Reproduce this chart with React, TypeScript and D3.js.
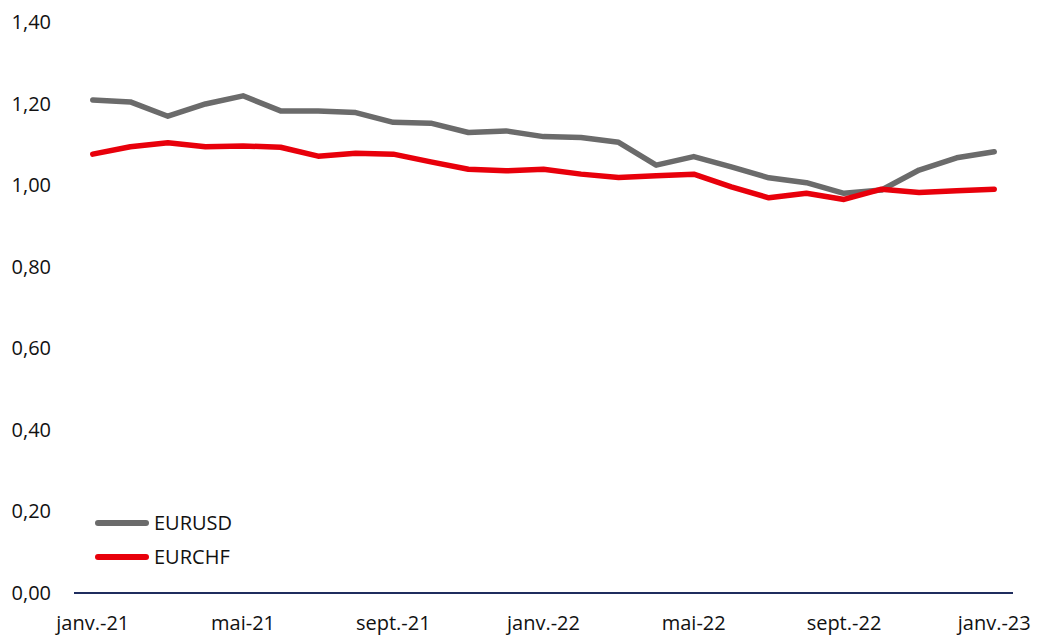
import React from "react";
import * as d3 from "d3";

const months = [
  "janv.-21","févr.-21","mars-21","avr.-21","mai-21","juin-21","juil.-21","août-21","sept.-21","oct.-21","nov.-21","déc.-21",
  "janv.-22","févr.-22","mars-22","avr.-22","mai-22","juin-22","juil.-22","août-22","sept.-22","oct.-22","nov.-22","déc.-22",
  "janv.-23",
];
const eurusd = [1.209,1.204,1.169,1.199,1.219,1.182,1.182,1.178,1.154,1.152,1.129,1.133,1.119,1.117,1.105,1.049,1.070,1.045,1.018,1.006,0.980,0.988,1.037,1.067,1.082];
const eurchf = [1.076,1.094,1.104,1.094,1.096,1.093,1.071,1.078,1.076,1.057,1.039,1.035,1.039,1.027,1.019,1.023,1.027,0.996,0.969,0.980,0.965,0.990,0.982,0.986,0.990];
const yTicks = [0,0.2,0.4,0.6,0.8,1.0,1.2,1.4];
const xTickLabels = ["janv.-21","mai-21","sept.-21","janv.-22","mai-22","sept.-22","janv.-23"];
const seriesNames = ["EURUSD","EURCHF"];
const colors = ["#6b6b6b","#e8000b"];

export default function App() {
  const W = 1038, H = 636;
  const x = d3.scaleBand<string>().domain(months).range([74, 1013]);
  const y = d3.scaleLinear().domain([0, 1.4]).range([593, 22]);
  const cx = (m: string) => (x(m) as number) + x.bandwidth() / 2;
  const line = d3.line<number>().x((_, i) => cx(months[i])).y((v) => y(v));
  const font = "'Open Sans', sans-serif";
  const fmt = (v: number) => v.toFixed(2).replace(".", ",");
  const data = [eurusd, eurchf];
  return (
    <svg width={W} height={H} style={{ position: "absolute", left: 0, top: 0, display: "block" }} fontFamily={font}>
      <rect width={W} height={H} fill="#fff" />
      {yTicks.map((t) => (
        <text key={t} x={51} y={y(t)} dy="0.35em" textAnchor="end" fontSize={20} fill="#111">{fmt(t)}</text>
      ))}
      <line x1={74} x2={1013} y1={y(0)} y2={y(0)} stroke="#1f2d5e" strokeWidth={2} />
      {xTickLabels.map((m) => (
        <text key={m} x={cx(m)} y={630} textAnchor="middle" fontSize={20} fill="#111">{m}</text>
      ))}
      {data.map((d, i) => (
        <path key={i} d={line(d) || ""} fill="none" stroke={colors[i]} strokeWidth={5.5} strokeLinejoin="round" strokeLinecap="round" />
      ))}
      {seriesNames.map((n, i) => (
        <g key={n} transform={`translate(0, ${523 + i * 34})`}>
          <line x1={98} x2={146} y1={0} y2={0} stroke={colors[i]} strokeWidth={6} strokeLinecap="round" />
          <text x={154} y={0} dy="0.35em" fontSize={20} fill="#111">{n}</text>
        </g>
      ))}
    </svg>
  );
}
